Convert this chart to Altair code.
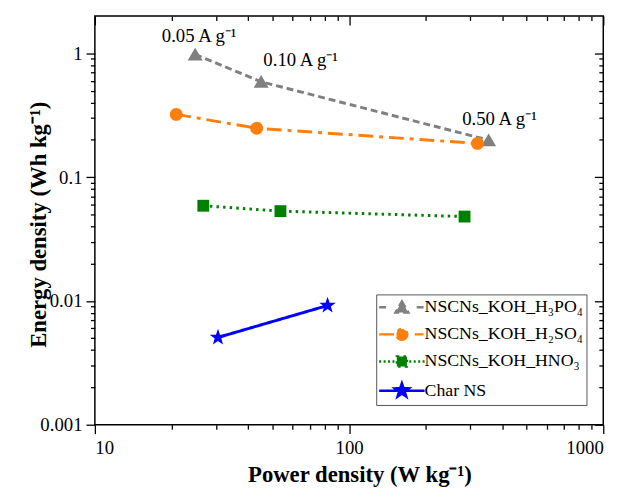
import math
import altair as alt
import pandas as pd

# ---------------- data ----------------
series_names = ["NSCNs_KOH_H₃PO₄", "NSCNs_KOH_H₂SO₄", "NSCNs_KOH_HNO₃", "Char NS"]

h3po4_power = [24.8, 45.1, 354.0]
h3po4_energy = [0.98, 0.589, 0.199]

h2so4_power = [20.9, 43.3, 320.0]
h2so4_energy = [0.321, 0.248, 0.187]

hno3_power = [26.7, 53.7, 284.6]
hno3_energy = [0.0587, 0.0531, 0.048]

charns_power = [30.5, 82.3]
charns_energy = [0.00507, 0.00918]

current_labels = ["0.05 A g⁻¹", "0.10 A g⁻¹", "0.50 A g⁻¹"]

x_major = [10, 100, 1000]
x_minor = [20, 30, 40, 50, 60, 70, 80, 90, 200, 300, 400, 500, 600, 700, 800, 900]
y_major = [0.001, 0.01, 0.1, 1]
y_minor = [0.002, 0.003, 0.004, 0.005, 0.006, 0.007, 0.008, 0.009,
           0.02, 0.03, 0.04, 0.05, 0.06, 0.07, 0.08, 0.09,
           0.2, 0.3, 0.4, 0.5, 0.6, 0.7, 0.8, 0.9]

# ---------------- tables ----------------
all_power = [h3po4_power, h2so4_power, hno3_power, charns_power]
all_energy = [h3po4_energy, h2so4_energy, hno3_energy, charns_energy]
rows = []
for name, pw, en in zip(series_names, all_power, all_energy):
    for p, e in zip(pw, en):
        rows.append({"series": name, "power": p, "energy": e})
df = pd.DataFrame(rows)
ann_df = pd.DataFrame({"power": h3po4_power, "energy": h3po4_energy, "label": current_labels})

# ---------------- styles ----------------
FONT = "Liberation Serif"
colors = ["#808080", "#FF7F0E", "#008000", "#0000FF"]
dashes = [[7, 4], [15, 6, 4, 6], [2.5, 4.2], [1, 0]]
kinds = ["tri", "circ", "sq", "star"]


def polygon(pts, unit):
    return "M" + "L".join(f"{x / unit:.4f},{y / unit:.4f}" for x, y in pts) + "Z"


def circle(r, unit):
    r = r / unit
    return (f"M{r:.4f},0A{r:.4f},{r:.4f} 0 1,1 {-r:.4f},0"
            f"A{r:.4f},{r:.4f} 0 1,1 {r:.4f},0Z")


def star_pts(R, r):
    pts = []
    for i in range(10):
        ang = -math.pi / 2 + i * math.pi / 5
        rad = R if i % 2 == 0 else r
        pts.append((rad * math.cos(ang), rad * math.sin(ang)))
    return pts


def marker(kind, s, unit):
    if kind == "tri":
        return polygon([(0, -6.8 * s), (7.6 * s, 6.2 * s), (-7.6 * s, 6.2 * s)], unit)
    if kind == "circ":
        return circle(6.5 * s, unit)
    if kind == "sq":
        return polygon([(-6 * s, -6 * s), (6 * s, -6 * s), (6 * s, 6 * s), (-6 * s, 6 * s)], unit)
    return polygon(star_pts(8.8 * s, 3.5 * s), unit)


PLOT_UNIT = 10.0   # point size 400 -> 10 px per path unit
plot_shapes = [marker(k, 1.0, PLOT_UNIT) for k in kinds]

LEG_SIZE = 306.25  # sqrt = 17.5 -> 8.75 px per path unit
LEG_UNIT = math.sqrt(LEG_SIZE) / 2


def segs(pairs, unit):
    return "".join(f"M{a / unit:.4f},0L{b / unit:.4f},0" for a, b in pairs)


legend_segments = [
    [(-23, -15), (15, 23)],
    [(-23, -2), (13, 22)],
    [(-23, -21), (-18.5, -16.5), (-14, -12), (-9.5, -7.5),
     (7.5, 9.5), (12, 14), (16.5, 18.5), (21, 23)],
    [(-23, 23)],
]
legend_shapes = [segs(p, LEG_UNIT) + marker(k, 0.85, LEG_UNIT)
                 for p, k in zip(legend_segments, kinds)]

x_scale = alt.Scale(type="log", domain=[10, 1000], nice=False)
y_scale = alt.Scale(type="log", domain=[0.001, 2], nice=False)
color_scale = alt.Scale(domain=series_names, range=colors)

MAJ = 9
MIN = 4.5

ax_bottom_major = alt.Axis(
    orient="bottom", values=x_major, format="d", tickSize=MAJ, labelPadding=5,
    title="Power density (W kg⁻¹)", titleFontSize=23, titleFontWeight="bold",
    titleX=268, titleY=58, titleBaseline="alphabetic", titleAlign="center")
ax_left_major = alt.Axis(
    orient="left", values=y_major, format="~g", tickSize=MAJ, labelPadding=4,
    title="Energy density (Wh kg⁻¹)", titleFontSize=23, titleFontWeight="bold",
    titleX=-50, titleY=211, titleAngle=-90, titleBaseline="alphabetic",
    titleAlign="center")
ax_bottom_minor = alt.Axis(orient="bottom", values=x_minor, tickSize=MIN,
                           labels=False, title=None)
ax_left_minor = alt.Axis(orient="left", values=y_minor, tickSize=MIN,
                         labels=False, title=None)
ax_top_major = alt.Axis(orient="top", values=x_major, tickSize=MAJ, offset=-MAJ,
                        labels=False, title=None)
ax_right_major = alt.Axis(orient="right", values=y_major, tickSize=MAJ, offset=-MAJ,
                          labels=False, title=None)
ax_top_minor = alt.Axis(orient="top", values=x_minor, tickSize=MIN, offset=-MIN,
                        labels=False, title=None)
ax_right_minor = alt.Axis(orient="right", values=y_minor, tickSize=MIN, offset=-MIN,
                          labels=False, title=None)

base = alt.Chart(df)

lines = base.mark_line(strokeWidth=3).encode(
    x=alt.X("power:Q", scale=x_scale, axis=ax_bottom_major),
    y=alt.Y("energy:Q", scale=y_scale, axis=ax_left_major),
    color=alt.Color("series:N", scale=color_scale, legend=None),
    strokeDash=alt.StrokeDash("series:N",
                              scale=alt.Scale(domain=series_names, range=dashes),
                              legend=None),
)

point_layers = []
for i, name in enumerate(series_names):
    point_layers.append(
        base.transform_filter(alt.datum.series == name)
        .mark_point(shape=plot_shapes[i], filled=True, size=400, opacity=1,
                    strokeWidth=0, color=colors[i])
        .encode(
            x=alt.X("power:Q", scale=x_scale,
                    axis=ax_bottom_minor if i == 0 else None),
            y=alt.Y("energy:Q", scale=y_scale,
                    axis=ax_left_minor if i == 0 else None),
        )
    )

ann_offsets = [(4, -13), (40, -16), (11, -15)]
ann_layers = []
for i, (lab, (dx, dy)) in enumerate(zip(current_labels, ann_offsets)):
    ann_layers.append(
        alt.Chart(ann_df).transform_filter(alt.datum.label == lab)
        .mark_text(dx=dx, dy=dy, align="center", baseline="alphabetic",
                   font=FONT, fontSize=19, color="black")
        .encode(
            x=alt.X("power:Q", scale=x_scale,
                    axis=ax_top_major if i == 0 else None),
            y=alt.Y("energy:Q", scale=y_scale,
                    axis=ax_right_major if i == 0 else None),
            text="label:N",
        )
    )

leg = alt.Legend(
    title=None, orient="none", legendX=285, legendY=282, padding=3,
    strokeColor="#555555", fillColor="white",
    labelFont=FONT, labelFontSize=18, labelColor="black", labelLimit=400,
    symbolSize=LEG_SIZE, symbolStrokeWidth=2.5, rowPadding=5.5,
    labelOffset=13, symbolOffset=13)

legend_layer = base.mark_point(
    filled=True, opacity=1, strokeWidth=2.5, size=0).encode(
    x=alt.X("power:Q", scale=x_scale, axis=ax_top_minor),
    y=alt.Y("energy:Q", scale=y_scale, axis=ax_right_minor),
    fill=alt.Fill("series:N", scale=color_scale, legend=leg),
    stroke=alt.Stroke("series:N", scale=color_scale, legend=leg),
    shape=alt.Shape("series:N",
                    scale=alt.Scale(domain=series_names, range=legend_shapes),
                    legend=leg),
)

chart = (
    alt.layer(legend_layer, lines, *point_layers, *ann_layers)
    .resolve_axis(x="independent", y="independent")
    .properties(width=515, height=414, autosize="none",
                padding={"left": 88, "top": 5, "right": 21, "bottom": 62})
    .configure_view(stroke="black", strokeWidth=1.5)
    .configure_axis(grid=False, domain=False, tickColor="black", tickWidth=1.3,
                    labelColor="black", labelFont=FONT, labelFontSize=19,
                    titleFont=FONT, titleColor="black")
)

chart.save("out.html", embed_options={"renderer": "svg", "actions": False})
